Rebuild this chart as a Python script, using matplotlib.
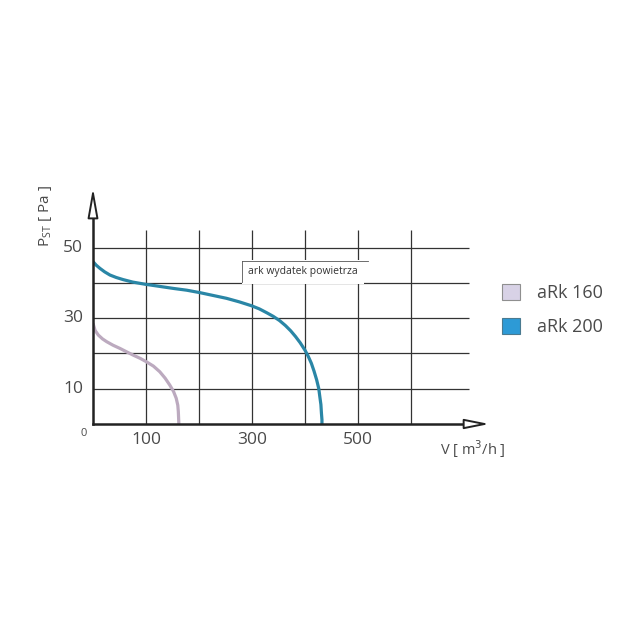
import matplotlib
matplotlib.use("Agg")
import matplotlib.pyplot as plt
from matplotlib.patches import Patch, FancyArrowPatch

# data
ark160_x = [0, 1, 4, 10, 18, 26, 38, 51, 64, 76, 89, 101, 114, 126, 136, 145, 152, 157, 160, 161, 162]
ark160_y = [28.5, 28, 26.5, 25.2, 24.1, 23.3, 22.3, 21.4, 20.4, 19.5, 18.6, 17.6, 16.4, 14.8, 13.0, 11.0, 9.2, 7.3, 5.3, 3.5, 0]
ark200_x = [0, 6, 13, 22, 32, 44, 57, 75, 98, 125, 152, 177, 202, 227, 252, 276, 299, 314, 328, 340, 352,
            363, 373, 382, 391, 400, 406, 412, 417, 422, 426, 428, 430, 431, 432, 432]
ark200_y = [46, 45, 44.1, 43.1, 42.2, 41.5, 40.9, 40.2, 39.6, 39.0, 38.4, 37.9, 37.2, 36.4, 35.6, 34.6, 33.5, 32.6, 31.5, 30.5, 29.3,
            27.9, 26.4, 24.8, 23.0, 20.9, 19.2, 17.2, 15.0, 12.5, 10.0, 7.7, 5.5, 3.1, 1.2, 0]
series_names = ["aRk 160", "aRk 200"]
xtick_vals = [100, 300, 500]
ytick_vals = [10, 30, 50]
grid_x = [100, 200, 300, 400, 500, 600]
grid_y = [10, 20, 30, 40, 50]

c160 = "#bcaabf"
c200 = "#2a86a6"
txt = "#4a4a4a"
font = "Open Sans"

fig = plt.figure(figsize=(6.4, 6.4), dpi=100)
W = 640.0
x0, y0 = 93, 424
pxx, pxy = 0.53, 3.53
xmax, ymax = 750, 68
ax = fig.add_axes([x0 / W, (W - y0) / W, xmax * pxx / W, ymax * pxy / W])
ax.set_xlim(0, xmax)
ax.set_ylim(0, ymax)
ax.axis("off")

# grid
ax.vlines(grid_x, 0, 55, color="#333333", lw=0.9, zorder=1)
ax.hlines(grid_y, 0, 710, color="#333333", lw=0.9, zorder=1)

# curves
ax.plot(ark160_x, ark160_y, color=c160, lw=2.3, solid_capstyle="butt",
        solid_joinstyle="round", zorder=3)
ax.plot(ark200_x, ark200_y, color=c200, lw=2.3, solid_capstyle="butt",
        solid_joinstyle="round", zorder=3)

# axes with open arrows
ax.plot([0, 0], [0, 60], color="#222222", lw=1.8, zorder=4, clip_on=False)
ax.plot([0, 712], [0, 0], color="#222222", lw=1.8, zorder=4, clip_on=False)
ya = FancyArrowPatch((0, 59.6), (0, 66.9), arrowstyle="-|>,head_length=18,head_width=3.2",
                     fc="white", ec="#222222", lw=1.4, zorder=5, clip_on=False,
                     shrinkA=0, shrinkB=0, mutation_scale=1)
xa = FancyArrowPatch((705, 0), (748, 0), arrowstyle="-|>,head_length=15,head_width=3.0",
                     fc="white", ec="#222222", lw=1.4, zorder=5, clip_on=False,
                     shrinkA=0, shrinkB=0, mutation_scale=1)
ax.add_patch(ya)
ax.add_patch(xa)

# annotation box
ax.text(292, 43.1, "ark wydatek powietrza", fontsize=7.5, family=font, color="#333333",
        va="center", ha="left", zorder=6,
        bbox=dict(boxstyle="square,pad=0.6", fc="white", ec="none"))
ax.plot([281, 519], [46.2, 46.2], color="#555555", lw=0.6, zorder=7)
ax.plot([281, 281], [46.2, 40.2], color="#555555", lw=0.6, zorder=7)

# tick labels
for v in ytick_vals:
    ax.text(-19, v, str(v), ha="right", va="center", fontsize=12.5, family=font,
            color=txt, clip_on=False)
for v in xtick_vals:
    ax.text(v, -4.6, str(v), ha="center", va="center", fontsize=12.5, family=font,
            color=txt, clip_on=False)
ax.text(-17, -2.8, "0", ha="center", va="center", fontsize=8, family=font, color=txt)

ax.text(717, -7.2, r"V [ m$^{3}$/h ]", ha="center", va="center", fontsize=10.5,
        family=font, color=txt, clip_on=False)
ax.text(-89, 59, r"P$_{\mathregular{ST}}$ [ Pa ]", ha="center", va="center",
        fontsize=11, rotation=90, family=font, color=txt, clip_on=False)

# legend
handles = [Patch(fc="#d8d2e6", ec="#8f8f8f", lw=0.8),
           Patch(fc="#2d9ad6", ec="#4a7a90", lw=0.8)]
fig.legend(handles, series_names, loc="center left", bbox_to_anchor=(486 / W, 1 - 310 / W),
           frameon=False, handlelength=1.0, handleheight=1.0,
           handletextpad=0.95, labelspacing=0.85, prop={"family": font, "size": 13},
           labelcolor=txt)

fig.savefig("out.png", dpi=100, facecolor="white")
